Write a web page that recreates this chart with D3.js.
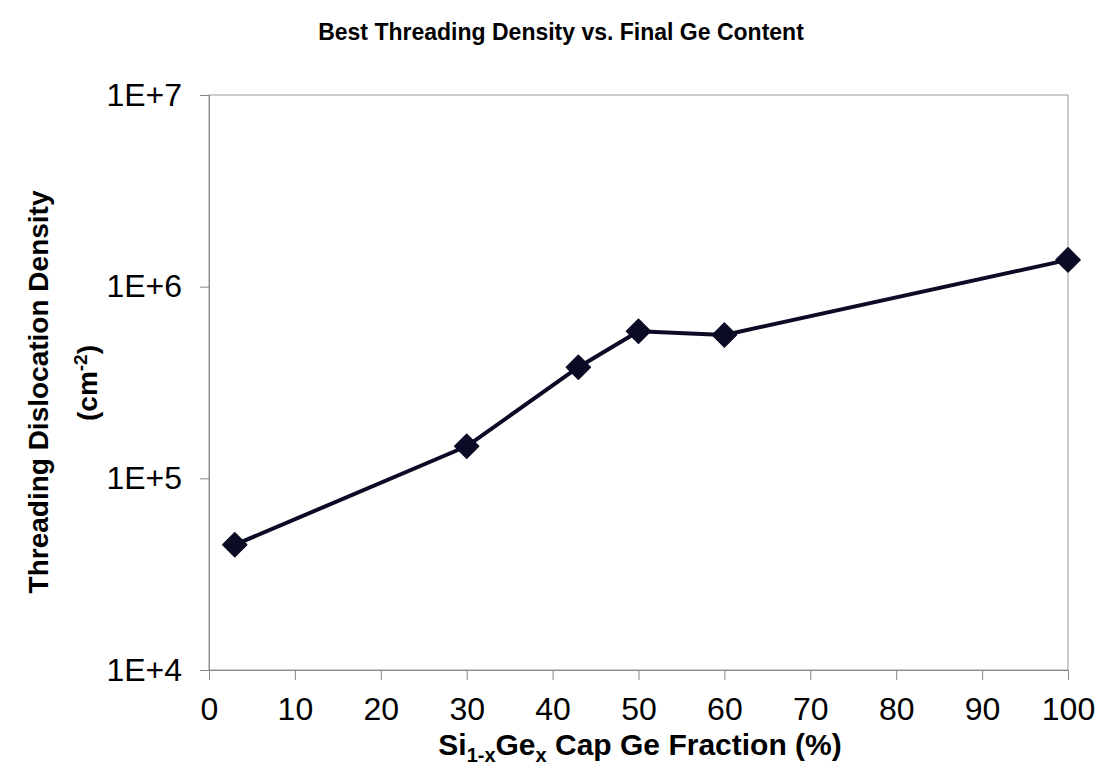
<!DOCTYPE html>
<html>
<head>
<meta charset="utf-8">
<script src="https://d3js.org/d3.v7.min.js"></script>
<style>
    body { margin: 0; background: #fff; }
    svg text { font-family: "Liberation Sans", Arial, sans-serif; fill: #000; }
</style>
</head>
<body>
<svg id="chart" width="1100" height="775"></svg>
<script>
// Ge fraction (%) and best threading dislocation density (cm^-2)
const geFraction = [3, 30, 43, 50, 60, 100];
const tddValues = [4.5e4, 1.47e5, 3.8e5, 5.85e5, 5.6e5, 1.38e6];
const xTicks = [0, 10, 20, 30, 40, 50, 60, 70, 80, 90, 100];
const yTicks = [1e4, 1e5, 1e6, 1e7];
const yTickLabels = ['1E+4', '1E+5', '1E+6', '1E+7'];

const svg = d3.select('#chart');
const margin = { left: 209, right: 1068, top: 95, bottom: 670 };

const x = d3.scaleLinear().domain([0, 100]).range([margin.left, margin.right]);
const y = d3.scaleLog().domain([1e4, 1e7]).range([margin.bottom, margin.top]);

// plot area border
svg.append('rect')
    .attr('x', margin.left).attr('y', margin.top)
    .attr('width', margin.right - margin.left)
    .attr('height', margin.bottom - margin.top)
    .attr('fill', 'none')
    .attr('stroke', '#999')
    .attr('stroke-width', 1);

// x axis
const xAxis = svg.append('g')
    .attr('transform', `translate(0,${margin.bottom})`)
    .call(d3.axisBottom(x).tickValues(xTicks).tickSize(10).tickPadding(17).tickFormat(d3.format('d')));

// y axis
const yAxis = svg.append('g')
    .attr('transform', `translate(${margin.left},0)`)
    .call(d3.axisLeft(y).tickValues(yTicks).tickSize(9).tickPadding(18)
        .tickFormat((d, i) => yTickLabels[i]));

[xAxis, yAxis].forEach(g => {
    g.select('.domain').attr('stroke', '#888');
    g.selectAll('.tick line').attr('stroke', '#888');
    g.selectAll('.tick text')
        .attr('font-size', 32)
        .attr('font-family', '"Liberation Sans", Arial, sans-serif')
        .attr('fill', '#000');
});
yAxis.selectAll('.tick text').attr('dy', '0.32em');

// data line
const pts = geFraction.map((g, i) => [g, tddValues[i]]);
svg.append('path')
    .datum(pts)
    .attr('fill', 'none')
    .attr('stroke', '#0b0b26')
    .attr('stroke-width', 4)
    .attr('stroke-linejoin', 'round')
    .attr('d', d3.line().x(d => x(d[0])).y(d => y(d[1])));

// diamond markers
svg.append('g')
    .selectAll('path')
    .data(pts)
    .join('path')
    .attr('transform', d => `translate(${x(d[0])},${y(d[1])})`)
    .attr('d', 'M0,-12L12,0L0,12L-12,0Z')
    .attr('fill', '#0b0b26')
    .attr('stroke', '#0b0b26')
    .attr('stroke-width', 1.5)
    .attr('stroke-linejoin', 'round');

// title
svg.append('text')
    .attr('x', 561).attr('y', 40)
    .attr('text-anchor', 'middle')
    .attr('font-size', 23)
    .attr('font-weight', 'bold')
    .text('Best Threading Density vs. Final Ge Content');

// x axis title
const xt = svg.append('text')
    .attr('x', 640).attr('y', 755)
    .attr('text-anchor', 'middle')
    .attr('font-size', 30)
    .attr('font-weight', 'bold');
xt.append('tspan').text('Si');
xt.append('tspan').attr('font-size', 20).attr('dy', 7).text('1-x');
xt.append('tspan').attr('dy', -7).text('Ge');
xt.append('tspan').attr('font-size', 20).attr('dy', 7).text('x');
xt.append('tspan').attr('dy', -7).text(' Cap Ge Fraction (%)');

// y axis title
svg.append('text')
    .attr('transform', 'translate(48,392) rotate(-90)')
    .attr('text-anchor', 'middle')
    .attr('font-size', 28)
    .attr('font-weight', 'bold')
    .text('Threading Dislocation Density');

const yt2 = svg.append('text')
    .attr('transform', 'translate(97,383) rotate(-90)')
    .attr('text-anchor', 'middle')
    .attr('font-size', 28)
    .attr('font-weight', 'bold');
yt2.append('tspan').text('(cm');
yt2.append('tspan').attr('font-size', 19).attr('dy', -10).text('-2');
yt2.append('tspan').attr('dy', 10).text(')');
</script>
</body>
</html>
